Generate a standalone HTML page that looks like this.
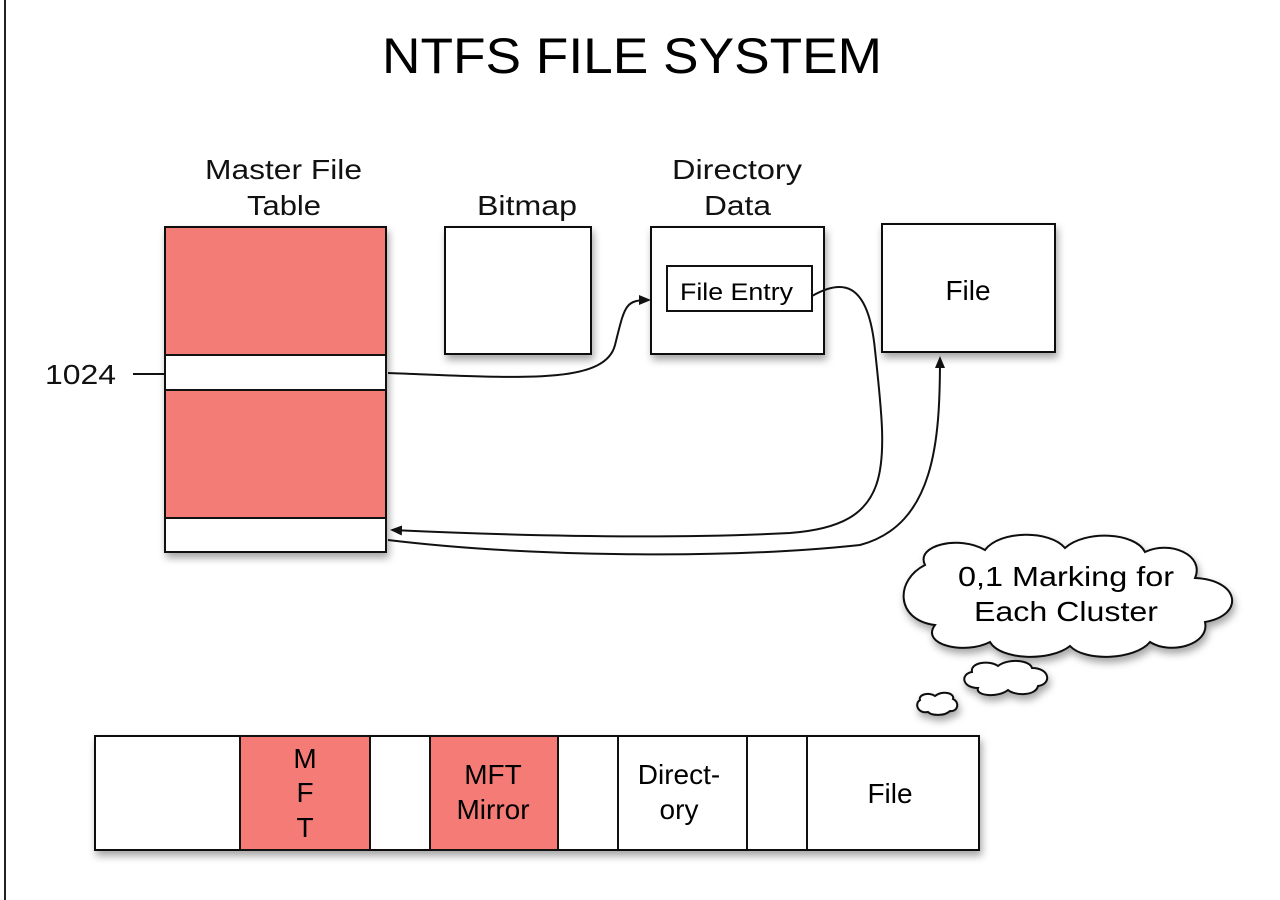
<!DOCTYPE html>
<html><head><style>
body{margin:0;width:1280px;height:900px;background:#fff;position:relative;overflow:hidden;font-family:"Liberation Sans",Arial,sans-serif;color:#111}
</style></head><body>
<svg width="1280" height="900" viewBox="0 0 1280 900" xmlns="http://www.w3.org/2000/svg" style="position:absolute;left:0;top:0">
<defs>
<filter id="sh" x="-10%" y="-10%" width="130%" height="130%"><feDropShadow dx="2" dy="5" stdDeviation="4" flood-color="#000" flood-opacity="0.35"/></filter>
<marker id="ar" markerWidth="12" markerHeight="10" refX="10" refY="5" orient="auto" markerUnits="userSpaceOnUse"><path d="M0,0 L12,5 L0,10 Z" fill="#111"/></marker>
</defs>
<rect x="4" y="0" width="2" height="900" fill="#222"/>
<text x="382" y="73" font-size="50" textLength="500" lengthAdjust="spacingAndGlyphs" font-family="Liberation Sans">NTFS FILE SYSTEM</text>
<g font-size="28" fill="#111" lengthAdjust="spacingAndGlyphs">
<text x="205" y="179" textLength="157" lengthAdjust="spacingAndGlyphs">Master File</text>
<text x="247" y="215" textLength="74" lengthAdjust="spacingAndGlyphs">Table</text>
<text x="477" y="215" textLength="100" lengthAdjust="spacingAndGlyphs">Bitmap</text>
<text x="672" y="179" textLength="130" lengthAdjust="spacingAndGlyphs">Directory</text>
<text x="704" y="215" textLength="67" lengthAdjust="spacingAndGlyphs">Data</text>
<text x="45" y="384" textLength="71" lengthAdjust="spacingAndGlyphs">1024</text>
</g>
<line x1="133" y1="374" x2="165" y2="374" stroke="#111" stroke-width="2"/>
<g filter="url(#sh)" stroke="#111" stroke-width="2">
<rect x="165" y="227" width="221" height="325" fill="#f47b76"/>
<rect x="445" y="227" width="146" height="127" fill="#fff"/>
<rect x="651" y="227" width="173" height="127" fill="#fff"/>
<rect x="882" y="224" width="173" height="128" fill="#fff"/>
<rect x="95" y="736" width="884" height="114" fill="#fff"/>
</g>
<g stroke="#111" stroke-width="2">
<rect x="165" y="355" width="221" height="35" fill="#fff"/>
<rect x="165" y="518" width="221" height="34" fill="#fff"/>
<rect x="667" y="266" width="145" height="45" fill="#fff"/>
<rect x="240" y="736" width="130" height="114" fill="#f47b76"/>
<rect x="430" y="736" width="128" height="114" fill="#f47b76"/>
<line x1="618" y1="736" x2="618" y2="850"/>
<line x1="747" y1="736" x2="747" y2="850"/>
<line x1="807" y1="736" x2="807" y2="850"/>
</g>
<text x="680" y="300" font-size="24" textLength="113" lengthAdjust="spacingAndGlyphs">File Entry</text>
<text x="968" y="300" font-size="28" text-anchor="middle">File</text>
<g font-size="28" text-anchor="middle">
<text x="305" y="768">M</text><text x="305" y="802">F</text><text x="305" y="837">T</text>
<text x="493" y="784">MFT</text><text x="493" y="819">Mirror</text>
<text x="679" y="784">Direct-</text><text x="679" y="819">ory</text>
<text x="890" y="803">File</text>
</g>
<g fill="none" stroke="#111" stroke-width="2">
<path d="M388,373 C520,378 605,385 615,345 C625,305 625,300 649,300" marker-end="url(#ar)"/>
<path d="M812,296 C840,280 868,278 875,350 C888,470 895,525 790,533 C650,540 500,535 392,530" marker-end="url(#ar)"/>
<path d="M388,540 C520,556 720,560 860,545 C935,525 940,440 940,358" marker-end="url(#ar)"/>
</g>
<g filter="url(#sh)" fill="#fff" stroke="#111" stroke-width="2">
<path d="M925,565 C915,545 960,535 985,550 C1000,530 1050,530 1065,548 C1085,530 1135,532 1145,552 C1170,540 1205,555 1195,578 C1240,580 1245,615 1205,622 C1210,645 1170,655 1150,642 C1135,660 1085,662 1070,646 C1050,662 1000,660 990,642 C965,655 920,645 935,625 C895,620 895,580 925,565 Z"/>
<path d="M972,672 C970,662 990,660 998,666 C1008,658 1030,660 1032,668 C1050,668 1052,684 1038,686 C1036,696 1015,696 1008,690 C998,698 975,696 978,688 C962,688 960,674 972,672 Z"/>
<path d="M920,700 C918,694 930,692 935,696 C942,690 955,693 953,699 C960,702 958,712 950,711 C945,716 932,716 928,712 C918,714 914,704 920,700 Z"/>
</g>
<g font-size="28"><text x="958" y="586" textLength="216" lengthAdjust="spacingAndGlyphs">0,1 Marking for</text><text x="974" y="621" textLength="184" lengthAdjust="spacingAndGlyphs">Each Cluster</text></g>
</svg>
</body></html>
